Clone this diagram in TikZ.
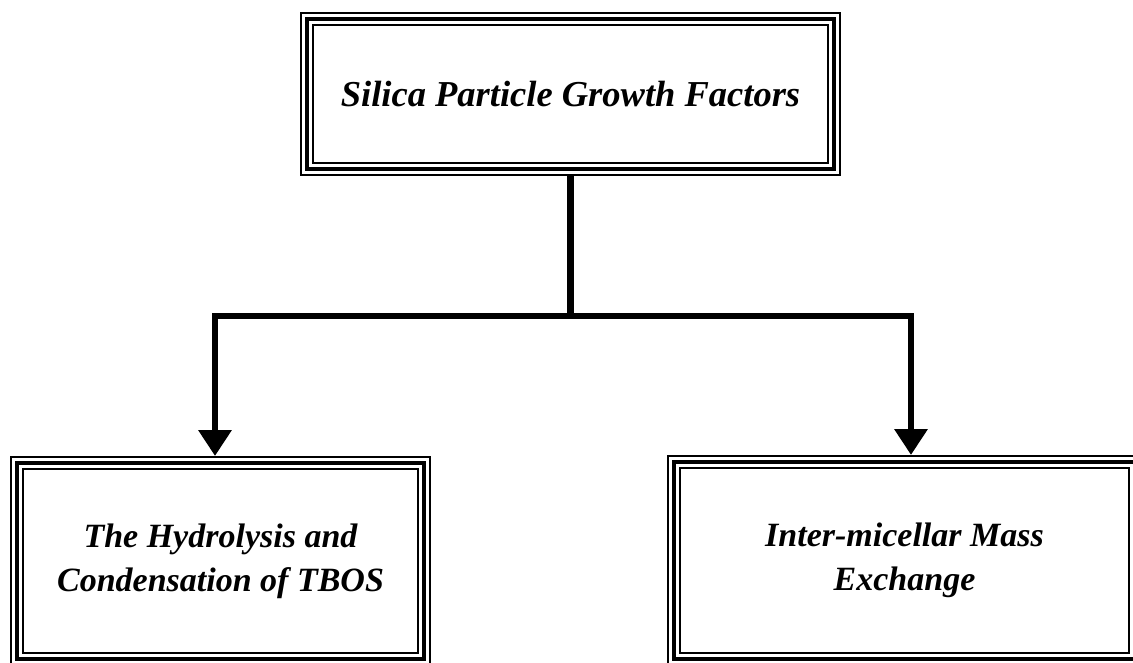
\documentclass[tikz,border=0pt]{standalone}
\usepackage{fontspec}
\setmainfont{Liberation Serif}
\usetikzlibrary{arrows.meta}
\tikzset{
  framebox/.style={draw=none, outer sep=0pt, inner sep=0pt, align=center,
    font=\bfseries\itshape},
  conn/.style={line width=6.5pt, line join=miter, line cap=rect},
  tip/.style={-{Triangle[width=32pt,length=26pt]}},
  thinframe/.style={line width=1.6pt},
  thickframe/.style={line width=4.2pt}
}
\begin{document}
\begin{tikzpicture}[x=1pt,y=-1pt]
\useasboundingbox (0,0) rectangle (1133,662);
\node[framebox, minimum width=541pt, minimum height=164pt,
  font=\fontsize{36.5}{40}\selectfont\bfseries\itshape] (top) at (570.5,94) {Silica Particle Growth Factors};
\node[framebox, minimum width=421pt, minimum height=210pt,
  font=\fontsize{34}{44}\selectfont\bfseries\itshape] (lf) at (220.5,561) {The Hydrolysis and\\Condensation of TBOS};
\node[framebox, minimum width=475pt, minimum height=211pt,
  font=\fontsize{34}{44}\selectfont\bfseries\itshape] (rt) at (904.5,560.5) {Inter-micellar Mass\\Exchange};
\foreach \n in {top,lf,rt}{
  \draw[thinframe] ([shift={(0.8,0.8)}]\n.north west) rectangle ([shift={(-0.8,-0.8)}]\n.south east);
  \draw[thickframe] ([shift={(7,7)}]\n.north west) rectangle ([shift={(-7,-7)}]\n.south east);
  \draw[thinframe] ([shift={(13.2,13.2)}]\n.north west) rectangle ([shift={(-13.2,-13.2)}]\n.south east);
}
\coordinate (j) at (570.5,316);
\coordinate (aL) at (215,456);
\coordinate (aR) at (911,455);
\draw[line width=6.5pt] (top.south) -- (j);
\draw[conn,tip] (j) -| (aL);
\draw[conn,tip] (j) -| (aR);
\end{tikzpicture}
\end{document}
